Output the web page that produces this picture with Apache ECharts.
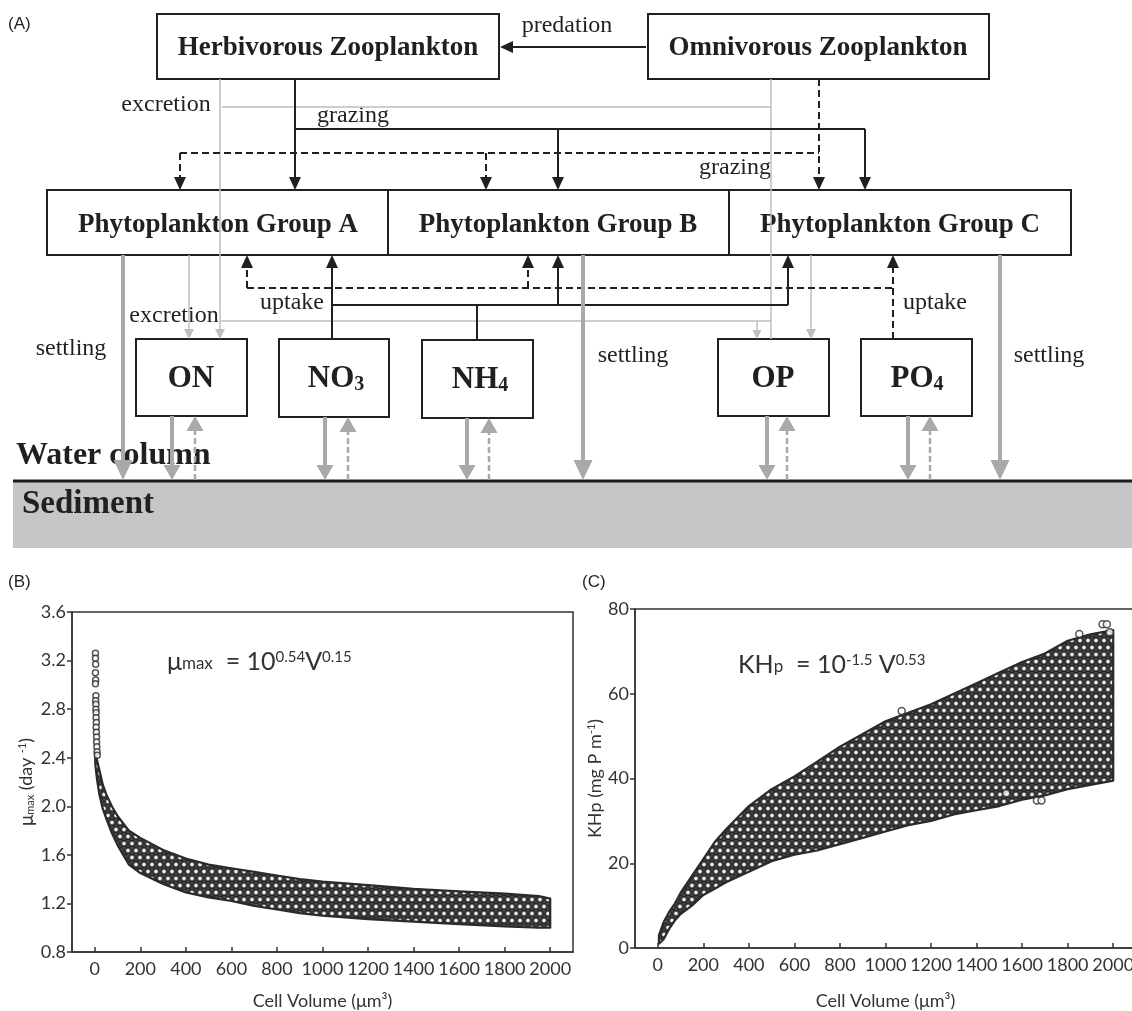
<!DOCTYPE html>
<html><head><meta charset="utf-8">
<script src="https://cdn.jsdelivr.net/npm/echarts@6/dist/echarts.min.js"></script>
<style>html,body{margin:0;padding:0;background:#fff}#c{width:1132px;height:1011px}</style>
</head><body><div id="c"></div>
<script>
// ---------------- data ----------------
const panelLabels = ['(A)', '(B)', '(C)'];
const xTicks = [0, 200, 400, 600, 800, 1000, 1200, 1400, 1600, 1800, 2000];

// (B) mu_max envelope of the point cloud
const muV  = [2,    10,   20,   35,   50,   75,   100,  150,  200,  300,  400,  500,  600,  700,  800,  900,  1000, 1200, 1400, 1600, 1800, 1950, 2000];
const muHi = [2.45, 2.38, 2.30, 2.18, 2.10, 2.00, 1.92, 1.80, 1.74, 1.64, 1.57, 1.52, 1.49, 1.46, 1.43, 1.40, 1.38, 1.35, 1.32, 1.30, 1.28, 1.26, 1.24];
const muLo = [2.35, 2.22, 2.10, 1.98, 1.90, 1.78, 1.68, 1.52, 1.45, 1.36, 1.29, 1.25, 1.22, 1.18, 1.15, 1.12, 1.10, 1.07, 1.05, 1.03, 1.01, 1.00, 1.00];
// (B) individual points in the column near V = 0
const muColV = [3, 3, 4, 3, 4, 3, 5, 4, 5, 5, 6, 6, 7, 6, 7, 8, 8, 9, 10, 11];
const muColY = [3.26, 3.22, 3.17, 3.10, 3.04, 3.01, 2.91, 2.87, 2.84, 2.80, 2.77, 2.73, 2.69, 2.65, 2.61, 2.57, 2.53, 2.49, 2.45, 2.42];

// (C) KHp envelope of the point cloud
const khV  = [5,  25, 50,  75,  100, 150, 200,  250, 300,  400,  500,  600,  700, 800,  900,  1000, 1100, 1200, 1300, 1400, 1500, 1600, 1700, 1800, 1900, 2000];
const khHi = [3,  6,  8.5, 10.5, 13, 17,  21,   25,  28,   33.5, 37.5, 40.5, 44,  47.5, 50.5, 53.5, 55.5, 57.5, 60,   62.5, 65,   67.5, 69.5, 72.5, 74,   75];
const khLo = [1,  2,  4.5, 6.5, 8,   10,  12.5, 14,  15.5, 18,   20.5, 22,   23,  24.5, 26,   27.5, 29,   30,   31.5, 32.5, 33.5, 35,   36,   37.5, 38.5, 39.5];
// (C) stray points outside the main cloud
const khStrayV = [1071, 1851, 1953, 1972, 1985, 1665, 1685, 1530];
const khStrayY = [55.9, 74.1, 76.4, 76.4, 74.5, 34.8, 34.8, 36.5];

// diagram texts
const zooNames = ['Herbivorous Zooplankton', 'Omnivorous Zooplankton'];
const phytoNames = ['Phytoplankton Group A', 'Phytoplankton Group B', 'Phytoplankton Group C'];

// ---------------- styling helpers ----------------
const BLK = '#231f20', GRT = '#a7a9ac', GRL = '#bcbec0';
const SERIF = '"Liberation Serif", "DejaVu Serif", serif';
const SANS = 'Lato, "Open Sans", sans-serif';

function makeTile() {
  const c = document.createElement('canvas');
  c.width = 8; c.height = 14;
  const g = c.getContext('2d');
  g.fillStyle = '#555555'; g.fillRect(0, 0, 8, 14);
  const centers = [[4, 3.5], [0, 10.5], [8, 10.5], [0, -3.5], [8, -3.5], [4, 17.5]];
  centers.forEach(([x, y]) => {
    g.beginPath(); g.arc(x, y, 3.3, 0, Math.PI * 2);
    g.strokeStyle = '#222'; g.lineWidth = 1.1; g.stroke();
    g.beginPath(); g.arc(x, y, 1.7, 0, Math.PI * 2);
    g.fillStyle = '#f4f4f4'; g.fill();
  });
  return c;
}
const tile = makeTile();

const G = [];
function line(x1, y1, x2, y2, c, w, dash) {
  G.push({ type: 'line', silent: true, shape: { x1, y1, x2, y2 },
    style: { stroke: c, lineWidth: w, lineDash: dash || null } });
}
function arrow(x1, y1, x2, y2, c, w, dash, hl, hw) {
  const dx = x2 - x1, dy = y2 - y1, L = Math.hypot(dx, dy), ux = dx / L, uy = dy / L;
  const bx = x2 - ux * hl, by = y2 - uy * hl;
  line(x1, y1, x2 - ux * hl * 0.6, y2 - uy * hl * 0.6, c, w, dash);
  G.push({ type: 'polygon', silent: true,
    shape: { points: [[x2, y2], [bx - uy * hw / 2, by + ux * hw / 2], [bx + uy * hw / 2, by - ux * hw / 2]] },
    style: { fill: c } });
}
function rect(x, y, w, h) {
  G.push({ type: 'rect', silent: true, shape: { x, y, width: w, height: h },
    style: { fill: 'none', stroke: BLK, lineWidth: 2 } });
}
function text(x, y, t, font, align, rich) {
  G.push({ type: 'text', silent: true, x, y,
    style: { text: t, font: font, fill: BLK, align: align || 'center', verticalAlign: 'middle', rich: rich } });
}

// ---------------- diagram (A) ----------------
G.push({ type: 'rect', silent: true, shape: { x: 13, y: 482, width: 1119, height: 66 }, style: { fill: '#c5c6c8' } });
line(13, 481, 1132, 481, '#1a1a1a', 3);
text(16, 456, 'Water column', 'bold 32px ' + SERIF, 'left');
text(22, 504, 'Sediment', 'bold 33px ' + SERIF, 'left');

rect(157, 14, 342, 65);
rect(648, 14, 341, 65);
rect(47, 190, 1024, 65);
line(388, 190, 388, 255, BLK, 2);
line(729, 190, 729, 255, BLK, 2);
rect(136, 339, 111, 77);
rect(279, 339, 110, 78);
rect(422, 340, 111, 78);
rect(718, 339, 111, 77);
rect(861, 339, 111, 77);

const BF = 'bold 27px ' + SERIF;
text(328, 48, zooNames[0], BF);
text(818, 48, zooNames[1], BF);
text(218, 225, phytoNames[0], BF);
text(558, 225, phytoNames[1], BF);
text(900, 225, phytoNames[2], BF);

const nutRich = { b: { font: 'bold 31px ' + SERIF, fill: BLK, verticalAlign: 'bottom' },
                  s: { font: 'bold 20px ' + SERIF, fill: BLK, verticalAlign: 'bottom' } };
text(191, 379, '{b|ON}', null, 'center', nutRich);
text(336, 379, '{b|NO}{s|3}', null, 'center', nutRich);
text(480, 380, '{b|NH}{s|4}', null, 'center', nutRich);
text(773, 379, '{b|OP}', null, 'center', nutRich);
text(917, 379, '{b|PO}{s|4}', null, 'center', nutRich);

const LF = '24px ' + SERIF;
text(567, 26, 'predation', LF);
text(166, 105, 'excretion', LF);
text(353, 116, 'grazing', LF);
text(735, 168, 'grazing', LF);
text(292, 303, 'uptake', LF);
text(935, 303, 'uptake', LF);
text(174, 316, 'excretion', LF);
text(71, 349, 'settling', LF);
text(633, 356, 'settling', LF);
text(1049, 356, 'settling', LF);

// grey thin excretion paths
arrow(220, 79, 220, 339, GRL, 1.5, null, 10, 10);
line(222, 107, 771, 107, GRL, 1.5);
line(771, 79, 771, 339, GRL, 1.5);
arrow(189, 255, 189, 339, GRL, 1.5, null, 10, 10);
line(221, 321, 771, 321, GRL, 1.5);
arrow(757, 321, 757, 339, GRL, 1.5, null, 9, 9);
arrow(811, 255, 811, 339, GRL, 1.5, null, 10, 10);

// black predation / grazing
arrow(646, 47, 500, 47, BLK, 2.2, null, 13, 12);
arrow(295, 79, 295, 190, BLK, 2, null, 13, 12);
line(295, 129, 865, 129, BLK, 2);
arrow(865, 129, 865, 190, BLK, 2, null, 13, 12);
arrow(558, 129, 558, 190, BLK, 2, null, 13, 12);
const D = [7, 4];
arrow(819, 79, 819, 190, BLK, 2, D, 13, 12);
line(180, 153, 819, 153, BLK, 2, D);
arrow(180, 153, 180, 190, BLK, 2, D, 13, 12);
arrow(486, 153, 486, 190, BLK, 2, D, 13, 12);

// uptake
arrow(332, 339, 332, 255, BLK, 2, null, 13, 12);
line(332, 305, 788, 305, BLK, 2);
arrow(788, 305, 788, 255, BLK, 2, null, 13, 12);
arrow(558, 305, 558, 255, BLK, 2, null, 13, 12);
line(477, 305, 477, 340, BLK, 2);
arrow(893, 339, 893, 255, BLK, 2, D, 13, 12);
line(247, 288, 893, 288, BLK, 2, D);
arrow(247, 288, 247, 255, BLK, 2, D, 13, 12);
arrow(528, 288, 528, 255, BLK, 2, D, 13, 12);

// settling
arrow(123, 255, 123, 480, GRT, 4, null, 20, 19);
arrow(583, 255, 583, 480, GRT, 4, null, 20, 19);
arrow(1000, 255, 1000, 480, GRT, 4, null, 20, 19);
[[172, 195, 416], [325, 348, 417], [467, 489, 418], [767, 787, 416], [908, 930, 416]].forEach(([xd, xu, yb]) => {
  arrow(xd, yb, xd, 480, GRT, 4, null, 15, 17);
  arrow(xu, 480, xu, yb, GRT, 2.5, [6, 3], 15, 17);
});

// panel labels
const PL = '17px "Liberation Sans", Arial, sans-serif';
text(8, 24, panelLabels[0], PL, 'left');
text(8, 582, panelLabels[1], PL, 'left');
text(582, 582, panelLabels[2], PL, 'left');

// equations
const eqRich = {
  m: { fontFamily: SANS, fontSize: 25, fill: '#333', verticalAlign: 'bottom' },
  s: { fontFamily: SANS, fontSize: 17, fill: '#333', verticalAlign: 'bottom', padding: [0, 0, 2, 0] },
  u: { fontFamily: SANS, fontSize: 15, fill: '#333', verticalAlign: 'top' }
};
text(167, 662, '{m|μ}{s|max}{m|  = 10}{u|0.54}{m|V}{u|0.15}', null, 'left', eqRich);
text(738, 665, '{m|KH}{s|p}{m|  = 10}{u|-1.5}{m| V}{u|0.53}', null, 'left', eqRich);

// ---------------- charts (B), (C) ----------------
function bandSeries(idx, V, lo, hi) {
  return {
    type: 'custom', xAxisIndex: idx, yAxisIndex: idx, clip: true, z: 3,
    data: V.map((v, i) => [v, lo[i], hi[i]]),
    encode: { x: 0, y: [1, 2] },
    renderItem: (params, api) => {
      if (params.dataIndex !== 0) return { type: 'group', children: [] };
      const pts = [];
      for (let i = 0; i < V.length; i++) pts.push(api.coord([V[i], hi[i]]));
      for (let i = V.length - 1; i >= 0; i--) pts.push(api.coord([V[i], lo[i]]));
      return { type: 'polygon', shape: { points: pts },
        style: { fill: { image: tile, repeat: 'repeat' }, stroke: '#2a2a2a', lineWidth: 2.2, lineJoin: 'round' } };
    }
  };
}
function strays(idx, xs, ys, size) {
  return { type: 'scatter', xAxisIndex: idx, yAxisIndex: idx, z: 4,
    data: xs.map((x, i) => [x, ys[i]]), symbol: 'circle', symbolSize: size,
    itemStyle: { color: '#fff', borderColor: '#2a2a2a', borderWidth: 1.5 } };
}

const axisCol = '#333';
function xAx(i, gap) {
  return { gridIndex: i, type: 'value', min: -100, max: 2100,
    splitLine: { show: false },
    axisLine: { show: true, onZero: false, lineStyle: { color: axisCol, width: 1.5 } },
    axisTick: { show: true, inside: true, length: 5, customValues: xTicks, lineStyle: { color: axisCol, width: 1.5 } },
    axisLabel: { customValues: xTicks, color: '#333', fontSize: 18, fontFamily: SANS, margin: 8,
      showMinLabel: true, showMaxLabel: true, formatter: v => String(v) },
    name: 'Cell Volume (μm³)', nameLocation: 'middle', nameGap: gap,
    nameTextStyle: { color: '#333', fontSize: 18, fontFamily: SANS } };
}
const yNameRich = {
  n: { fontFamily: SANS, fontSize: 18, color: '#333' },
  mu: { fontFamily: SANS, fontSize: 19, color: '#333' },
  sb: { fontFamily: SANS, fontSize: 11, color: '#333', verticalAlign: 'bottom' },
  sp: { fontFamily: SANS, fontSize: 11, color: '#333', verticalAlign: 'top' }
};

const option = {
  animation: false,
  backgroundColor: '#fff',
  grid: [
    { left: 72, top: 612, width: 501, height: 340, show: true, borderColor: axisCol, borderWidth: 1.5,
      backgroundColor: 'transparent', containLabel: false, outerBoundsMode: 'none' },
    { left: 635, top: 609, width: 501, height: 339, show: true, borderColor: axisCol, borderWidth: 1.5,
      backgroundColor: 'transparent', containLabel: false, outerBoundsMode: 'none' }
  ],
  xAxis: [xAx(0, 40), xAx(1, 44)],
  yAxis: [
    { gridIndex: 0, type: 'value', min: 0.8, max: 3.6, interval: 0.4,
      splitLine: { show: false },
      axisLine: { show: true, onZero: false, lineStyle: { color: axisCol, width: 1.5 } },
      axisTick: { show: true, length: 5, lineStyle: { color: axisCol, width: 1.5 } },
      axisLabel: { color: '#333', fontSize: 18, fontFamily: SANS, margin: 6, formatter: v => v.toFixed(1) },
      name: '{mu|μ}{sb|max}{n| (day }{sp|-1}{n|)}', nameLocation: 'middle', nameGap: 36, nameRotate: 90,
      nameTextStyle: { rich: yNameRich } },
    { gridIndex: 1, type: 'value', min: 0, max: 80, interval: 20,
      splitLine: { show: false },
      axisLine: { show: true, onZero: false, lineStyle: { color: axisCol, width: 1.5 } },
      axisTick: { show: true, length: 5, lineStyle: { color: axisCol, width: 1.5 } },
      axisLabel: { color: '#333', fontSize: 18, fontFamily: SANS, margin: 6 },
      name: '{n|KHp (mg P m}{sp|-1}{n|)}', nameLocation: 'middle', nameGap: 30, nameRotate: 90,
      nameTextStyle: { rich: yNameRich } }
  ],
  series: [
    bandSeries(0, muV, muLo, muHi),
    strays(0, muColV, muColY, 6),
    bandSeries(1, khV, khLo, khHi),
    strays(1, khStrayV, khStrayY, 7)
  ],
  graphic: { elements: G }
};

const chart = echarts.init(document.getElementById('c'), null, { renderer: 'canvas' });
chart.setOption(option);
</script>
</body></html>
